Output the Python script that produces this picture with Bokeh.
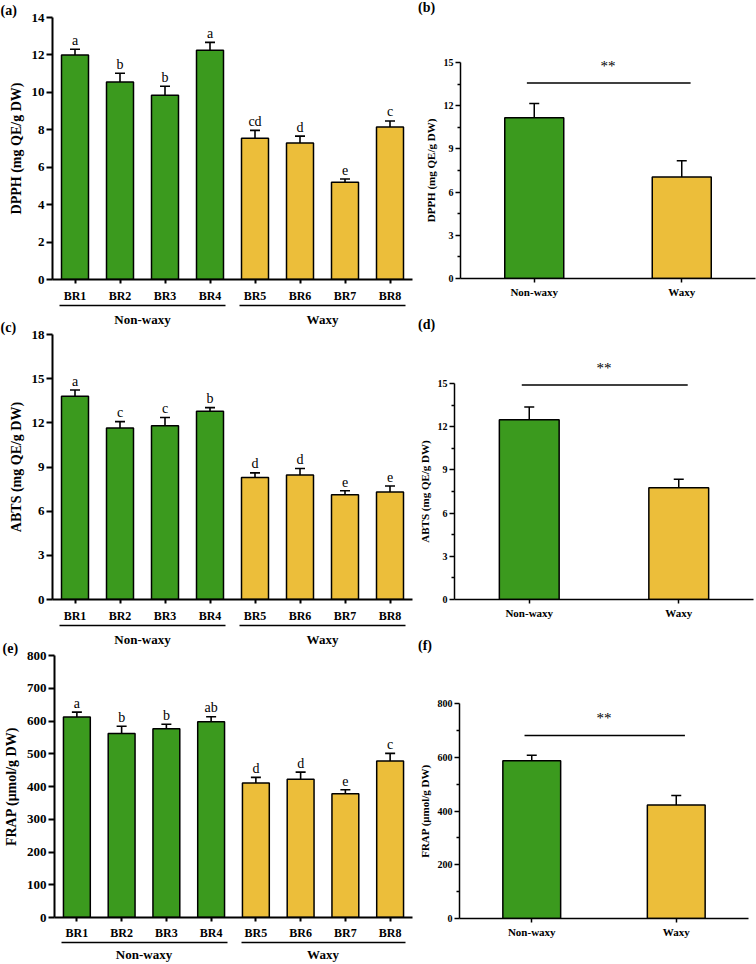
from bokeh.plotting import figure
from bokeh.models import (ColumnDataSource, Whisker, TeeHead, Label, Range1d, FixedTicker,
                          FactorRange, CategoricalAxis, Title, Div)
from bokeh.layouts import column, row
from bokeh.core.properties import value
from bokeh.embed import file_html
from bokeh.resources import INLINE

# ---------------- data ----------------
categories = ["BR1", "BR2", "BR3", "BR4", "BR5", "BR6", "BR7", "BR8"]
category_group = ["Non-waxy"] * 4 + ["Waxy"] * 4
groups = ["Non-waxy", "Waxy"]

dpph_mean = [12.0, 10.55, 9.85, 12.25, 7.55, 7.3, 5.2, 8.15]
dpph_err = [0.3, 0.47, 0.48, 0.42, 0.42, 0.36, 0.17, 0.32]
dpph_letters = ["a", "b", "b", "a", "cd", "d", "e", "c"]

abts_mean = [13.8, 11.65, 11.8, 12.78, 8.28, 8.45, 7.12, 7.3]
abts_err = [0.43, 0.43, 0.56, 0.25, 0.32, 0.45, 0.27, 0.41]
abts_letters = ["a", "c", "c", "b", "d", "d", "e", "e"]

frap_mean = [612, 562, 576, 598, 411, 422, 378, 478]
frap_err = [15, 22, 14, 15, 17, 22, 12, 23]
frap_letters = ["a", "b", "b", "ab", "d", "d", "e", "c"]

dpph_group_mean = [11.17, 7.05]
dpph_group_err = [0.98, 1.12]
abts_group_mean = [12.49, 7.76]
abts_group_err = [0.87, 0.59]
frap_group_mean = [587, 422]
frap_group_err = [20, 36]
significance = "**"

# ---------------- style ----------------
FONT = "Liberation Serif"
GREEN = "#3b9a1e"
YELLOW = "#ecbe3a"
group_color = {"Non-waxy": GREEN, "Waxy": YELLOW}

LEFT_W, RIGHT_W = 415, 341
TAG_H = 16

# row start / height on the page (rows overlap slightly so that the group names
# of one row can sit close to the panel tag of the next)
ROW1 = (0, 329)
ROW2 = (317, 332)
ROW3 = (638, 326)


def base_style(p, tick_size, label_size, axis_w, ylabel_standoff):
    p.outline_line_color = None
    p.xgrid.grid_line_color = None
    p.ygrid.grid_line_color = None
    p.background_fill_color = "white"
    p.border_fill_color = None
    for ax in (p.xaxis[0], p.yaxis[0]):
        ax.axis_line_width = axis_w
        ax.axis_line_color = "black"
        ax.major_tick_line_width = axis_w
        ax.major_tick_in = 0
        ax.minor_tick_in = 0
        ax.major_label_text_font = FONT
        ax.major_label_text_font_style = "bold"
        ax.major_label_text_color = "black"
        ax.axis_label_text_font = FONT
        ax.axis_label_text_font_style = "bold"
        ax.axis_label_text_color = "black"
    p.yaxis.major_label_text_font_size = tick_size
    p.yaxis.axis_label_text_font_size = label_size
    p.yaxis.axis_label_standoff = ylabel_standoff


def cultivar_panel(means, errs, letters, ymax, step, ylabel, tag, row_box,
                   label_gap=5, group_gap=6):
    left, right = 52, 3
    src = ColumnDataSource(dict(
        cat=categories, mean=means,
        upper=[m + e for m, e in zip(means, errs)],
        lower=[m - e for m, e in zip(means, errs)],
        letter=letters,
        color=[group_color[g] for g in category_group],
    ))
    p = figure(width=LEFT_W, height=row_box[1], x_range=categories, y_range=Range1d(0, ymax),
               output_backend="svg", toolbar_location=None,
               min_border_left=left, min_border_right=right,
               min_border_top=10, min_border_bottom=40)
    base_style(p, "13px", "14px", 2, 5)
    p.vbar(x="cat", top="mean", width=0.6, source=src, fill_color="color",
           line_color="black", line_width=1.5)
    p.add_layout(Whisker(base="cat", upper="upper", lower="lower", source=src,
                         dimension="height", line_width=1.6, line_color="black",
                         upper_head=TeeHead(size=10, line_width=1.6, line_color="black"),
                         lower_head=TeeHead(size=10, line_width=1.6, line_color="black")))
    p.text(x="cat", y="upper", text="letter", source=src, y_offset=-9,
           text_align="center", text_baseline="alphabetic",
           text_font=value(FONT), text_font_size="14px", text_color="black")

    p.yaxis.ticker = FixedTicker(ticks=list(range(0, ymax + 1, step)))
    p.yaxis.major_tick_out = 6
    p.yaxis.major_label_standoff = 2
    p.yaxis.axis_label = ylabel
    p.yaxis.minor_tick_line_color = None
    p.xaxis.major_tick_out = 4
    p.xaxis.major_label_standoff = label_gap
    p.xaxis.major_label_text_font_size = "12px"

    # group names under the cultivar labels, with an underline broken between groups
    p.extra_x_ranges = {"grp": FactorRange(*groups)}
    gax = CategoricalAxis(x_range_name="grp", bounds=(0.04, 1.96),
                          axis_line_width=1.3, axis_line_color="black",
                          axis_line_dash="166 14 400",
                          major_tick_line_color=None, major_tick_out=0, major_tick_in=0,
                          minor_tick_line_color=None, major_label_standoff=group_gap,
                          major_label_text_font=FONT, major_label_text_font_style="bold",
                          major_label_text_font_size="13px", major_label_text_color="black")
    p.add_layout(gax, "below")
    p.title = Title(text=tag, align="left", offset=-left, standoff=0,
                    text_font=FONT, text_font_style="bold", text_font_size="14px",
                    text_color="black")
    return p


def group_panel(means, errs, ymax, step, ylabel, tag, row_box, frame_top, frame_bottom,
                left, frame_w, sig_y):
    start, height = row_box
    right = RIGHT_W - left - frame_w
    src = ColumnDataSource(dict(
        cat=groups, mean=means,
        upper=[m + e for m, e in zip(means, errs)],
        lower=[m - e for m, e in zip(means, errs)],
        color=[group_color[g] for g in groups],
    ))
    p = figure(width=RIGHT_W, height=height - TAG_H, x_range=groups,
               y_range=Range1d(0, ymax),
               output_backend="svg", toolbar_location=None,
               min_border_left=left, min_border_right=right,
               min_border_top=frame_top - start - TAG_H,
               min_border_bottom=start + height - frame_bottom)
    base_style(p, "10px", "11px", 1.5, 4)
    p.vbar(x="cat", top="mean", width=0.4, source=src, fill_color="color",
           line_color="black", line_width=1.5)
    p.add_layout(Whisker(base="cat", upper="upper", lower="lower", source=src,
                         dimension="height", line_width=1.5, line_color="black",
                         upper_head=TeeHead(size=10, line_width=1.5, line_color="black"),
                         lower_head=TeeHead(size=10, line_width=1.5, line_color="black")))
    half = step / 2
    majors = [i * step for i in range(int(round(ymax / step)) + 1)]
    p.yaxis.ticker = FixedTicker(ticks=majors, minor_ticks=[t + half for t in majors[:-1]])
    p.yaxis.major_tick_out = 5
    p.yaxis.minor_tick_out = 3
    p.yaxis.minor_tick_line_width = 1.5
    p.yaxis.major_label_standoff = 2
    p.yaxis.axis_label = ylabel
    p.xaxis.major_tick_out = 4
    p.xaxis.major_label_standoff = 3
    p.xaxis.major_label_text_font_size = "11px"

    # significance bracket between the two groups; the stars live in the top
    # panel so they are not cut at the frame edge
    p.segment(x0=[0.45], x1=[1.56], y0=[sig_y], y1=[sig_y], line_color="black", line_width=1.5)
    p.add_layout(Label(x=1.0, y=sig_y, y_offset=17, text=significance,
                       text_font=FONT, text_font_size="15px", text_align="center",
                       text_baseline="alphabetic", text_color="black"), "above")

    tag_div = Div(text=tag, width=RIGHT_W, height=TAG_H, margin=0,
                  styles={"font-family": FONT, "font-weight": "bold", "font-size": "14px",
                          "line-height": "16px", "padding-left": "3px", "color": "black"})
    return column(tag_div, p, spacing=0)


pa = cultivar_panel(dpph_mean, dpph_err, dpph_letters, 14, 2,
                    "DPPH (mg QE/g DW)", "(a)", ROW1)
pb = group_panel(dpph_group_mean, dpph_group_err, 15, 3,
                 "DPPH (mg QE/g DW)", "(b)", ROW1, 62, 278, 45, 295, 13.57)
pc = cultivar_panel(abts_mean, abts_err, abts_letters, 18, 3,
                    "ABTS (mg QE/g DW)", "(c)", ROW2)
pd = group_panel(abts_group_mean, abts_group_err, 15, 3,
                 "ABTS (mg QE/g DW)", "(d)", ROW2, 383, 599, 38, 300, 14.89)
pe = cultivar_panel(frap_mean, frap_err, frap_letters, 800, 100,
                    "FRAP (μmol/g DW)", "(e)", ROW3, label_gap=4, group_gap=4)
pf = group_panel(frap_group_mean, frap_group_err, 800, 200,
                 "FRAP (μmol/g DW)", "(f)", ROW3, 703, 918, 41, 292, 681)


def overlap(prev, cur):
    return prev[0] + prev[1] - cur[0]


layout = column(
    row(column(pa), pb),
    row(column(pc), pd, margin=(-overlap(ROW1, ROW2), 0, 0, 0)),
    row(column(pe), pf, margin=(-overlap(ROW2, ROW3), 0, 0, 0)),
)
open("out.html", "w").write(file_html(layout, INLINE))
